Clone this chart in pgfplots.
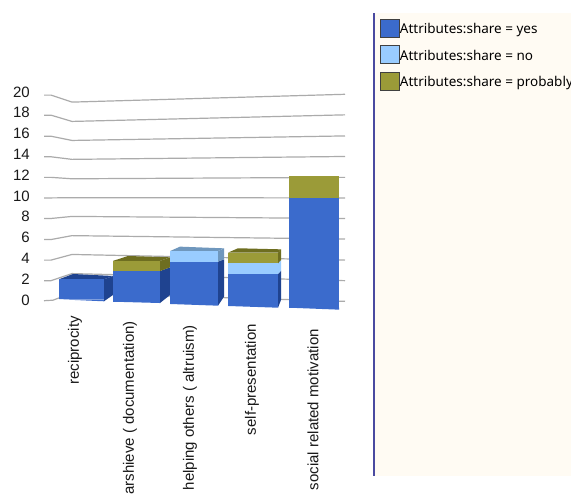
\documentclass[border=0pt]{standalone}
\usepackage{fontspec}
\setmainfont{Liberation Sans}
\newfontfamily\legendfont{Noto Sans}
\usepackage{pgfplots}
\pgfplotsset{compat=1.18}

\definecolor{yesblue}{HTML}{3B6BCC}
\definecolor{yesside}{HTML}{1F4390}
\definecolor{noblue}{HTML}{99CCFF}
\definecolor{noside}{HTML}{6F97BD}
\definecolor{proolive}{HTML}{9B9B38}
\definecolor{proside}{HTML}{6E6E20}
\definecolor{panelbg}{HTML}{FFFBF3}
\definecolor{panelline}{HTML}{4A4AA0}
\definecolor{gridgrey}{HTML}{ABABAB}

% One layer per column: x runs in points across the page, y in shares.
% Arguments: baseline from page top, points per unit, label top from page top.
\pgfplotsset{
  barpanel/.style n args={3}{
    anchor=south west,
    at={(0pt,494pt-#3pt)},
    x=1pt, y=#2pt,
    xmin=0, xmax=571,
    ymin={-(#3-#1)/#2}, ymax=14,
    clip=false,
  },
  facelayer/.style={hide axis},
  barlayer/.style={
    ybar stacked,
    axis y line=none,
    axis x line*=bottom,
    x axis line style={draw=none},
    major tick length=0pt,
    xtick pos=bottom,
    xticklabel style={rotate=90, anchor=east, inner sep=0pt, font=\fontsize{15}{15}\selectfont, text=black!90},
  },
  face/.style={fill=#1, draw=none, mark=none, forget plot},
  gridline/.style={gridgrey, line width=1.2pt, mark=none, forget plot},
}

\begin{document}
\begin{tikzpicture}[x=1pt,y=1pt]
\clip (0,0) rectangle (571,494);
\fill[white] (0,0) rectangle (571,494);
\fill[panelbg] (374,18) rectangle (571,481);
\draw[panelline, line width=1.6pt] (374,18) -- (374,481);

% Receding gridlines and the legend
\begin{axis}[
  anchor=south west, at={(0pt,183pt)},
  x=1pt, y=10.28pt,
  xmin=0, xmax=571, ymin=-1, ymax=29,
  hide axis, clip=false,
  legend style={
    at={(axis cs:380,27.45)}, anchor=north west,
    draw=none, fill=none, inner sep=0pt, outer sep=0pt,
    font=\legendfont\fontsize{13.5}{14}\selectfont,
    row sep=8pt,
    nodes={inner sep=0pt, text depth=0pt},
  },
  legend cell align=left,
  legend image code/.code={
    \draw[#1, draw=black!75!white, line width=0.9pt] (0pt,-9pt) rectangle (19pt,9pt);
  },
]
\addplot[gridline] coordinates {(44,20.00) (51,20.00) (72,19.32) (345,20.08)};
\addplot[gridline] coordinates {(44,18.05) (51,18.05) (72,17.44) (345,18.08)};
\addplot[gridline] coordinates {(44,16.00) (51,16.00) (72,15.59) (345,16.03)};
\addplot[gridline] coordinates {(44,14.00) (51,14.00) (72,13.75) (345,14.03)};
\addplot[gridline] coordinates {(44,12.00) (51,12.00) (72,11.86) (345,12.00)};
\addplot[gridline] coordinates {(44,10.00) (51,10.00) (72,10.02) (345,10.00)};
\addplot[gridline] coordinates {(44,8.00) (51,8.00) (72,8.20) (345,8.00)};
\addplot[gridline] coordinates {(44,5.95) (51,5.95) (72,6.33) (345,6.00)};
\addplot[gridline] coordinates {(44,3.95) (51,3.95) (72,4.50) (345,3.95)};
\addplot[gridline] coordinates {(44,1.95) (51,1.95) (72,2.64) (345,1.95)};
\addplot[gridline] coordinates {(44,0.00) (53,0.05) (72,0.75) (345,-0.06)};
\addlegendimage{fill=yesblue}
\addlegendentry{Attributes:share = yes}
\addlegendimage{fill=noblue}
\addlegendentry{Attributes:share = no}
\addlegendimage{fill=proolive}
\addlegendentry{Attributes:share = probably}
\end{axis}

% Value scale
\begin{axis}[
  anchor=south west, at={(30pt,194pt)},
  x=1pt, y=10.4pt,
  xmin=30, xmax=40, ymin=0, ymax=20,
  axis x line=none, axis y line*=left,
  y axis line style={draw=none},
  major tick length=0pt,
  ytick={0,2,...,20},
  yticklabel style={font=\fontsize{15}{15}\selectfont, text=black!90, inner sep=0pt},
  /pgf/number format/assume math mode=true,
]
\end{axis}

% reciprocity
\begin{axis}[barpanel={299.3}{10}{316}, facelayer]
\addplot[face=yesside] coordinates {(59,2) (104,2) (113,2.33) (73,2.53)} -- cycle;
\addplot[face=yesside] coordinates {(104,-0.2) (104,2) (113,2.33) (113,0.43)} -- cycle;
\addplot[face=yesblue] coordinates {(59,0) (104,0) (104,-0.2)} -- cycle;
\end{axis}
\begin{axis}[barpanel={299.3}{10}{316}, barlayer, bar width=45pt, xtick={75}, xticklabels={reciprocity}]
\addplot[fill=yesblue, draw=none] coordinates {(81.5,2)};
\addplot[fill=noblue, draw=none] coordinates {(81.5,0)};
\addplot[fill=proolive, draw=none] coordinates {(81.5,0)};
\end{axis}

% arshieve
\begin{axis}[barpanel={301.7}{10.2}{321}, facelayer]
\addplot[face=proside] coordinates {(113,4) (160,4) (170,4.35) (128,4.48)} -- cycle;
\addplot[face=yesside] coordinates {(160,-0.13) (160,3) (170,3.37) (170,0.65)} -- cycle;
\addplot[face=proside] coordinates {(160,3) (160,4) (170,4.35) (170,3.37)} -- cycle;
\addplot[face=yesblue] coordinates {(113,0) (160,0) (160,-0.13)} -- cycle;
\end{axis}
\begin{axis}[barpanel={301.7}{10.2}{321}, barlayer, bar width=47pt, xtick={130}, xticklabels={arshieve ( documentation)}]
\addplot[fill=yesblue, draw=none] coordinates {(136.5,3)};
\addplot[fill=noblue, draw=none] coordinates {(136.5,0)};
\addplot[fill=proolive, draw=none] coordinates {(136.5,1)};
\end{axis}

% helping others
\begin{axis}[barpanel={304}{10.58}{325}, facelayer]
\addplot[face=noside] coordinates {(170,5) (218,5) (224,5.26) (180,5.42)} -- cycle;
\addplot[face=yesside] coordinates {(218,-0.16) (218,4) (224,4.22) (224,0.69)} -- cycle;
\addplot[face=noside] coordinates {(218,4) (218,5) (224,5.26) (224,4.22)} -- cycle;
\addplot[face=yesblue] coordinates {(170,0) (218,0) (218,-0.16)} -- cycle;
\end{axis}
\begin{axis}[barpanel={304}{10.58}{325}, barlayer, bar width=48pt, xtick={190}, xticklabels={helping others ( altruism)}]
\addplot[fill=yesblue, draw=none] coordinates {(194,4)};
\addplot[fill=noblue, draw=none] coordinates {(194,1)};
\addplot[fill=proolive, draw=none] coordinates {(194,0)};
\end{axis}

% self-presentation
\begin{axis}[barpanel={306}{10.67}{324}, facelayer]
\addplot[face=proside] coordinates {(228,5) (278,5) (281,5.31) (238,5.41)} -- cycle;
\addplot[face=yesside] coordinates {(278,-0.16) (278,3) (281,3.31) (281,0.56)} -- cycle;
\addplot[face=noblue] coordinates {(278,3) (278,4) (281,4.3) (281,3.31)} -- cycle;
\addplot[face=proside] coordinates {(278,4) (278,5) (281,5.31) (281,4.3)} -- cycle;
\addplot[face=yesblue] coordinates {(228,0) (278,0) (278,-0.16)} -- cycle;
\end{axis}
\begin{axis}[barpanel={306}{10.67}{324}, barlayer, bar width=50pt, xtick={252}, xticklabels={self-presentation}]
\addplot[fill=yesblue, draw=none] coordinates {(253,3)};
\addplot[fill=noblue, draw=none] coordinates {(253,1)};
\addplot[fill=proolive, draw=none] coordinates {(253,1)};
\end{axis}

% social related motivation
\begin{axis}[barpanel={307.7}{10.95}{329}, facelayer]
\addplot[face=yesblue] coordinates {(289,0) (339,0) (339,-0.18)} -- cycle;
\end{axis}
\begin{axis}[barpanel={307.7}{10.95}{329}, barlayer, bar width=50pt, xtick={313}, xticklabels={social related motivation}]
\addplot[fill=yesblue, draw=none] coordinates {(314,10)};
\addplot[fill=noblue, draw=none] coordinates {(314,0)};
\addplot[fill=proolive, draw=none] coordinates {(314,2)};
\end{axis}
\end{tikzpicture}
\end{document}
